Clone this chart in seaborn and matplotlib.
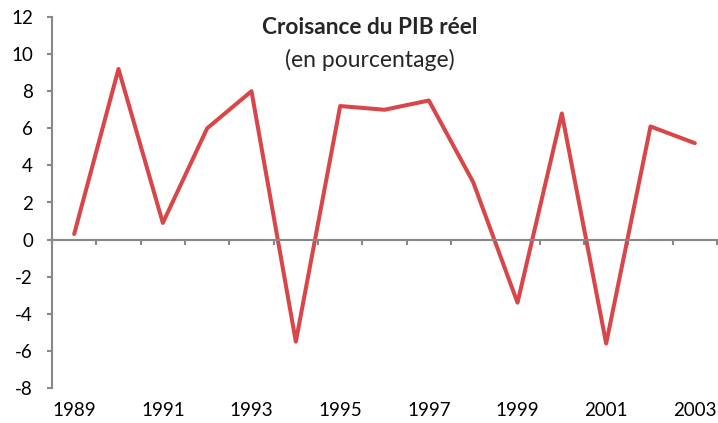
import matplotlib
matplotlib.use("Agg")
import matplotlib.pyplot as plt
import seaborn as sns
import pandas as pd
import numpy as np

years = [1989, 1990, 1991, 1992, 1993, 1994, 1995, 1996, 1997, 1998, 1999, 2000, 2001, 2002, 2003]
growth = [0.3, 9.2, 0.9, 6.0, 8.0, -5.5, 7.2, 7.0, 7.5, 3.1, -3.4, 6.8, -5.6, 6.1, 5.2]
y_ticks = [-8, -6, -4, -2, 0, 2, 4, 6, 8, 10, 12]
x_labels = [1989, 1991, 1993, 1995, 1997, 1999, 2001, 2003]

sns.set_style("white")
plt.rcParams['font.family'] = ['Lato', 'DejaVu Sans']

df = pd.DataFrame({"year": years, "growth": growth})

fig = plt.figure(figsize=(7.18, 4.23), dpi=100)
ax = fig.add_axes([52/718, 1-388/423, (717-52)/718, (388-17)/423])

sns.lineplot(data=df, x="year", y="growth", ax=ax, color="#D9464A", linewidth=2.9)

ax.set_xlim(years[0]-0.5, years[-1]+0.5)
ax.set_ylim(y_ticks[0], y_ticks[-1])
ax.set_yticks(y_ticks)
ax.set_yticklabels([str(v) for v in y_ticks])

gray = "#888888"
for s in ["top", "right"]:
    ax.spines[s].set_visible(False)
ax.spines["left"].set_color(gray)
ax.spines["left"].set_linewidth(1.5)
ax.spines["bottom"].set_position(("data", 0))
ax.spines["bottom"].set_color(gray)
ax.spines["bottom"].set_linewidth(1.5)

ax.set_xticks([y - 0.5 for y in years] + [years[-1] + 0.5])
ax.set_xticklabels([])
ax.set_xticks(x_labels, minor=True)
ax.set_xticklabels([str(v) for v in x_labels], minor=True)
ax.tick_params(axis="x", which="major", bottom=True, direction="out", length=3.6, width=1.5, color=gray)
ax.tick_params(axis="x", which="minor", bottom=True, length=0, pad=117, labelsize=13.5, labelcolor="black")
ax.tick_params(axis="y", left=True, direction="out", length=3.6, width=1.5, color=gray, labelsize=13.5, labelcolor="black", pad=10)

ax.set_xlabel("")
ax.set_ylabel("")

fig.text(370/718, 1-27/423, "Croisance du PIB réel", ha="center", va="center", fontsize=16.3, fontweight="bold")
fig.text(370/718, 1-60/423, "(en pourcentage)", ha="center", va="center", fontsize=16.5)

fig.savefig("out.png", dpi=100)
